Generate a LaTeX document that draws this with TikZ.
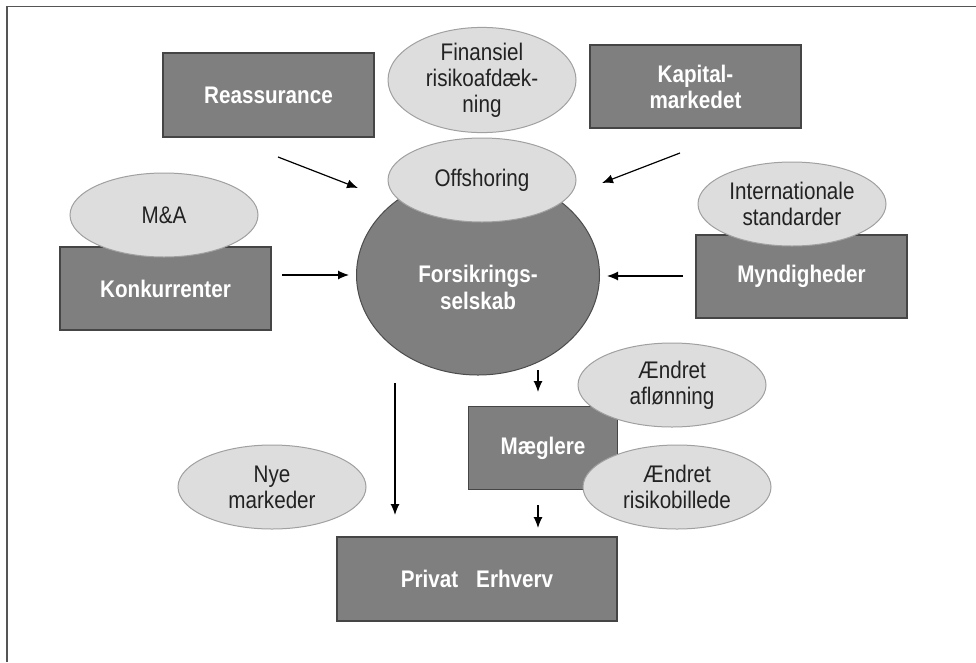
\documentclass[tikz,border=0pt]{standalone}
\usepackage{fontspec}
\setmainfont{Liberation Sans}[FakeStretch=0.86]
\usetikzlibrary{arrows.meta,shapes.geometric}
\definecolor{boxgray}{HTML}{7F7F7F}
\definecolor{boxline}{HTML}{454545}
\definecolor{ellfill}{HTML}{DDDDDD}
\definecolor{ellline}{HTML}{A0A0A0}
\definecolor{framec}{HTML}{555555}
\definecolor{ovaltext}{HTML}{222222}
\begin{document}
\begin{tikzpicture}[x=1pt,y=-1pt,
  box/.style={draw=boxline, line width=1.5pt, fill=boxgray, text=white,
    font=\fontsize{24}{26}\selectfont\bfseries, align=center, inner sep=0pt,
    minimum width=211pt, minimum height=83pt},
  oval/.style={ellipse, draw=ellline, line width=1pt, fill=ellfill, text=ovaltext,
    font=\fontsize{24}{26}\selectfont, align=center, inner sep=0pt,
    minimum width=188pt, minimum height=84pt},
  bigoval/.style={ellipse, draw=black!70, line width=1pt, fill=boxgray,
    minimum width=243pt, minimum height=200pt, inner sep=0pt},
  whitetext/.style={text=white, font=\fontsize{24}{27}\selectfont\bfseries, align=center},
  arr/.style={line width=1.2pt, -{Latex[length=11pt,width=9pt]}}]
\useasboundingbox (0,0) rectangle (976,662);
% frame
\draw[framec, line width=1.5pt] (976,6.5) -- (7,6.5) -- (7,662);
% boxes
\node[box, minimum height=84pt] (reas) at (268.5,95) {Reassurance};
\node[box] (kap) at (695.5,86.5) {Kapital-\\markedet};
\node[box] (konk) at (165.5,288.5) {Konkurrenter};
\node[box] (mynd) at (801.5,276.5) {Myndigheder};
\node[box, minimum width=149pt] (maegl) at (543,448) {Mæglere};
\node[box, minimum width=280pt, minimum height=84pt] (priv) at (477,579) {Privat\hspace{18pt}Erhverv};
% central company
\node[bigoval] (fs) at (478,275) {};
\node[whitetext] (fstext) at (478,287) {Forsikrings-\\selskab};
% ovals
\node[oval] (fin) at (482,80) {Finansiel\\risikoafdæk-\\ning};
\node[oval] (off) at (482,180) {Offshoring};
\node[oval] (ma) at (164,215) {M\&A};
\node[oval] (intl) at (792,204) {Internationale\\standarder};
\node[oval] (afl) at (672,385) {Ændret\\aflønning};
\node[oval] (risk) at (677,487) {Ændret\\risikobillede};
\node[oval] (nye) at (272,487) {Nye\\markeder};
% arrow end points
\coordinate (a1s) at (278,157); \coordinate (a1e) at (358,188);
\coordinate (a2s) at (680,153); \coordinate (a2e) at (602,183);
\coordinate (a3s) at (282,275); \coordinate (a3e) at (349,275);
\coordinate (a4s) at (683,276); \coordinate (a4e) at (607,276);
\coordinate (a5s) at (538,370); \coordinate (a5e) at (538,392);
\coordinate (a6s) at (395,383); \coordinate (a6e) at (395,515);
\coordinate (a7s) at (538,505); \coordinate (a7e) at (538,528);
\draw[arr] (a1s) -- (a1e);
\draw[arr] (a2s) -- (a2e);
\draw[arr] (a3s) -- (a3e);
\draw[arr] (a4s) -- (a4e);
\draw[arr] (a5s) -- (a5e);
\draw[arr] (a6s) -- (a6e);
\draw[arr] (a7s) -- (a7e);
\end{tikzpicture}
\end{document}
